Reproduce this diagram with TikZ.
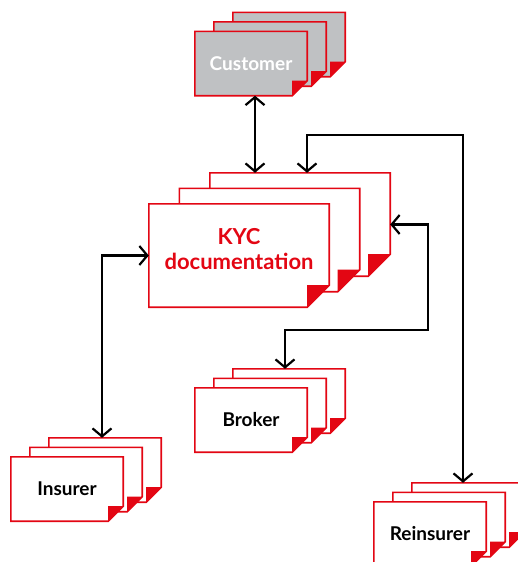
\documentclass[tikz,border=0pt]{standalone}
\usepackage{fontspec}
\setmainfont{Lato}
\usetikzlibrary{arrows.meta,backgrounds}
\definecolor{docred}{HTML}{E30613}
\definecolor{docgray}{HTML}{BFC1C3}
\tikzset{
  page/.style={inner sep=0pt, minimum width=112pt, minimum height=64pt,
    font=\bfseries\fontsize{19}{22}\selectfont},
  bigpage/.style={page, minimum width=180pt, minimum height=103pt,
    font=\bfseries\fontsize{22}{25}\selectfont, text=docred, align=center},
  link/.style={black, line width=2.2pt,
    {Straight Barb[length=8pt,width=19pt]}-{Straight Barb[length=8pt,width=19pt]}},
}
% one sheet with a folded corner: node, fill, fold
\newcommand{\docpage}[3]{%
  \filldraw[fill=#2, draw=docred, line width=1.6pt] (#1.north west) -- (#1.north east)
    -- ([yshift=#3]#1.south east) -- ([xshift=-#3]#1.south east) -- (#1.south west) -- cycle;
  \fill[docred] ([xshift=-#3,yshift=#3]#1.south east) -- ([yshift=#3]#1.south east)
    -- ([xshift=-#3]#1.south east) -- cycle;
}
\begin{document}
\begin{tikzpicture}[x=1pt,y=-1pt]
  \useasboundingbox (0,0) rectangle (517,562);
  % front sheets
  \node[page, text=white] (customer) at (251,63.5) {Customer};
  \node[bigpage, text depth=14pt] (kyc) at (239,255.5) {KYC\\documentation};
  \node[page] (broker) at (251,420) {Broker};
  \node[page] (insurer) at (67,489) {Insurer};
  \node[page] (reinsurer) at (430,534) {Reinsurer};
  % sheets behind
  \foreach \doc in {customer,broker,insurer,reinsurer} {
    \node[page] (\doc2) at ([shift={(19pt,9.5pt)}]\doc.center) {};
    \node[page] (\doc3) at ([shift={(38pt,19pt)}]\doc.center) {};
  }
  \node[bigpage] (kyc2) at ([shift={(30.5pt,15.5pt)}]kyc.center) {};
  \node[bigpage] (kyc3) at ([shift={(61pt,31pt)}]kyc.center) {};
  \begin{pgfonlayer}{background}
    \foreach \doc/\paper in {customer/docgray,broker/white,insurer/white,reinsurer/white} {
      \docpage{\doc3}{\paper}{15pt}
      \docpage{\doc2}{\paper}{15pt}
      \docpage{\doc}{\paper}{15pt}
    }
    \docpage{kyc3}{white}{22pt}
    \docpage{kyc2}{white}{22pt}
    \docpage{kyc}{white}{22pt}
  \end{pgfonlayer}
  % links
  \draw[link] ([xshift=4pt]customer.south) -- ([xshift=4pt]customer.south |- kyc3.north);
  \draw[link] ([xshift=7pt]kyc3.north) -- ++(0pt,38pt) -| ([xshift=-5pt]reinsurer3.north);
  \draw[link] (kyc3.east) -- ++(38pt,0pt) |- ([xshift=-4pt,yshift=39pt]broker3.north)
    -- ([xshift=-4pt]broker3.north);
  \draw[link] (kyc.west) -| ([xshift=-3pt]insurer3.north);
\end{tikzpicture}
\end{document}
